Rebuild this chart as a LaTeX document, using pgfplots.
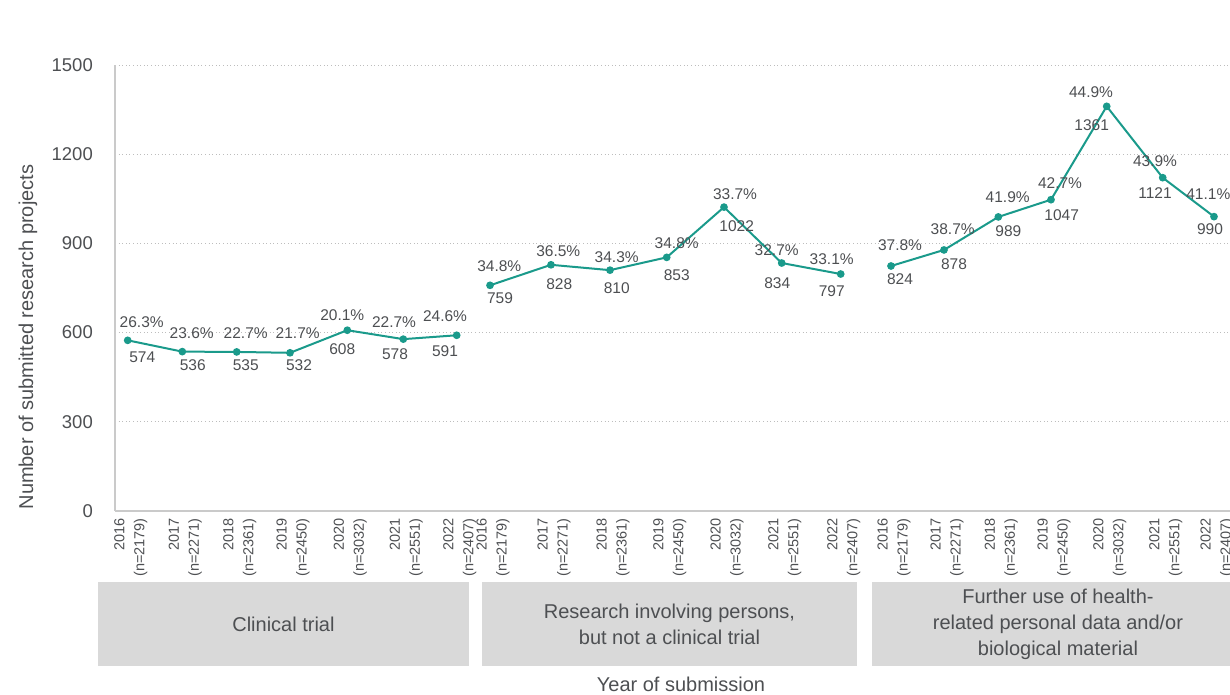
\documentclass[border=0pt]{standalone}
\usepackage{pgfplots}
\pgfplotsset{compat=1.18}
\usepackage{pgfplotstable}
\usepackage{fontspec}
\setmainfont{Liberation Sans}
\definecolor{lineteal}{HTML}{1A9A8B}
\definecolor{txt}{HTML}{4D4F52}
\definecolor{boxg}{HTML}{D9D9D9}
\definecolor{gridg}{HTML}{BDBDBD}

\pgfplotstableread{
x y pct pdx pdy cdx cdy
127.7 574 26.3 14 18 14.6 16.6
182.3 536 23.6 9.4 18.3 10.4 13.4
236.7 535 22.7 9 18.3 9 13.4
290 532 21.7 7.7 19.7 9 12
347.3 608 20.1 -5 14.6 -5 18.7
403.3 578 22.7 -9.3 17.4 -8.3 15
456.7 591 24.6 -11.7 19 -11.7 16
}\groupA
\pgfplotstableread{
x y pct pdx pdy cdx cdy
490 759 34.8 9.3 19.4 10 12.6
551 828 36.5 7.3 13.3 8.3 19.3
610 810 34.3 6.7 13.3 6.7 18.3
666.7 853 34.8 10 14 10 17.7
724 1022 33.7 11 12.6 12.7 19.4
781.7 834 32.7 -5 12.6 -4.4 20
840.7 797 33.1 -9 15 -9 16.7
}\groupB
\pgfplotstableread{
x y pct pdx pdy cdx cdy
891 824 37.8 9 20.7 9 13.3
944 878 38.7 8.7 21 10 14
998.3 989 41.9 9.4 19.7 10 14.3
1051 1047 42.7 9 16.7 10.7 15.7
1106.7 1361 44.9 -15.7 14 -15 19
1162.7 1121 43.9 -7.7 16.7 -7.7 15
1214 990 41.1 -5.7 22.3 -4 12.4
}\groupC

\pgfplotsset{
  pctline/.style={
    lineteal, line width=2bp, mark=*, mark size=2.8bp,
    mark options={fill=lineteal, draw=lineteal},
    point meta=explicit symbolic,
    nodes near coords={\pgfplotspointmeta\%},
    visualization depends on={\thisrow{pdx} \as \pdx},
    visualization depends on={\thisrow{pdy} \as \pdy},
    nodes near coords style={anchor=center, inner sep=0pt, text=txt,
      font=\fontsize{15.5bp}{17bp}\selectfont, xshift={\pdx*1bp}, yshift={\pdy*1bp}},
  },
  cntlabel/.style={
    draw=none, mark=none,
    point meta=explicit symbolic,
    nodes near coords={\pgfplotspointmeta},
    visualization depends on={\thisrow{cdx} \as \cdx},
    visualization depends on={\thisrow{cdy} \as \cdy},
    nodes near coords style={anchor=center, inner sep=0pt, text=txt,
      font=\fontsize{15.5bp}{17bp}\selectfont, xshift={\cdx*1bp}, yshift={-\cdy*1bp}},
  },
}

\begin{document}
\begin{tikzpicture}
\useasboundingbox (0,0) rectangle (1230bp,695bp);
\begin{axis}[
  at={(115bp,184bp)}, anchor=south west,
  scale only axis, width=1115bp, height=446bp,
  xmin=115, xmax=1230, ymin=0, ymax=1500,
  clip=false,
  axis lines*=left,
  axis line style={-, draw=gridg!80, line width=1.3bp},
  ymajorgrids,
  grid style={gridg, line width=0.9bp, dash pattern=on 1bp off 2.6bp},
  major tick length=0pt,
  ytick={0,300,600,900,1200,1500},
  yticklabels={0,300,600,900,1200,1500},
  yticklabel style={font=\fontsize{18.5bp}{20bp}\selectfont, text=txt, inner sep=0pt, anchor=east, xshift=-22bp},
  xtick={127.7,182.3,236.7,290,347.3,403.3,456.7,490,551,610,666.7,724,781.7,840.7,891,944,998.3,1051,1106.7,1162.7,1214},
  xticklabels={
    {2016\\(n=2179)},{2017\\(n=2271)},{2018\\(n=2361)},{2019\\(n=2450)},{2020\\(n=3032)},{2021\\(n=2551)},{2022\\(n=2407)},
    {2016\\(n=2179)},{2017\\(n=2271)},{2018\\(n=2361)},{2019\\(n=2450)},{2020\\(n=3032)},{2021\\(n=2551)},{2022\\(n=2407)},
    {2016\\(n=2179)},{2017\\(n=2271)},{2018\\(n=2361)},{2019\\(n=2450)},{2020\\(n=3032)},{2021\\(n=2551)},{2022\\(n=2407)}},
  xticklabel style={yshift=-7bp, xshift=3bp, rotate=90, anchor=east, align=right, inner sep=0pt,
    font=\fontsize{14.5bp}{20bp}\selectfont, text=txt},
  ylabel={Number of submitted research projects},
  ylabel style={at={(axis description cs:-0.078,0.39)}, anchor=center, text=txt,
    font=\fontsize{20bp}{22bp}\selectfont},
  xlabel={Year of submission},
  xlabel style={at={(axis description cs:0.5076,-0.388)}, anchor=center, text=txt,
    font=\fontsize{20bp}{22bp}\selectfont},
]
\fill[boxg] (axis description cs:-0.01525,-0.1592) rectangle (axis description cs:0.3175,-0.3475);
\fill[boxg] (axis description cs:0.3291,-0.1592) rectangle (axis description cs:0.6655,-0.3475);
\fill[boxg] (axis description cs:0.6789,-0.1592) rectangle (axis description cs:1.03,-0.3475);
\node[align=center, text=txt, font=\fontsize{20bp}{26bp}\selectfont] at (axis description cs:0.1511,-0.2534) {Clinical trial};
\node[align=center, text=txt, font=\fontsize{20bp}{26bp}\selectfont] at (axis description cs:0.4973,-0.2534) {Research involving persons,\\but not a clinical trial};
\node[align=center, text=txt, font=\fontsize{20bp}{26bp}\selectfont] at (axis description cs:0.8457,-0.2534) {Further use of health-\\related personal data and/or\\biological material};

\addplot[pctline] table[x=x, y=y, meta=pct] {\groupA};
\addplot[cntlabel] table[x=x, y=y, meta=y] {\groupA};
\addplot[pctline] table[x=x, y=y, meta=pct] {\groupB};
\addplot[cntlabel] table[x=x, y=y, meta=y] {\groupB};
\addplot[pctline] table[x=x, y=y, meta=pct] {\groupC};
\addplot[cntlabel] table[x=x, y=y, meta=y] {\groupC};
\end{axis}
\end{tikzpicture}
\end{document}
